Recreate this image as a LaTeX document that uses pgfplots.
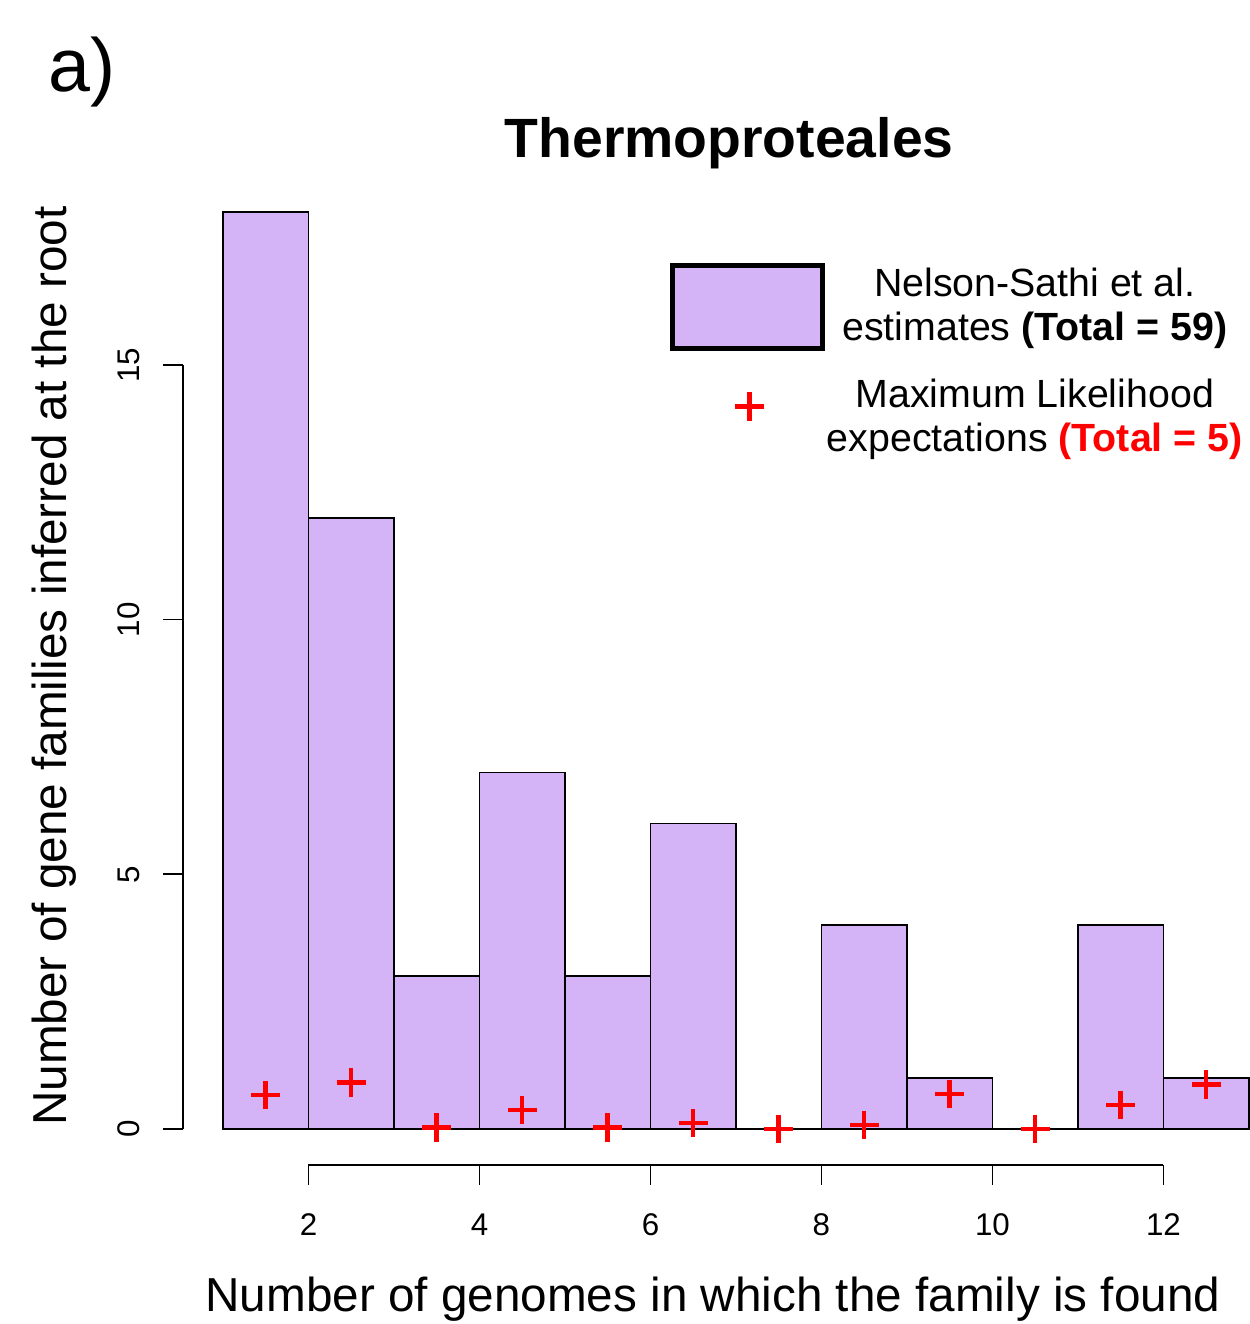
\documentclass[border=0pt]{standalone}
\usepackage{pgfplots}
\pgfplotsset{compat=1.18}
\usepackage{fontspec}
\setmainfont{Liberation Sans}
\definecolor{lav}{RGB}{212,180,246}

\begin{document}
\begin{tikzpicture}
\begin{axis}[
  x=25.65pt, y=15.28pt,
  xmin=0.532, xmax=13, ymin=-0.707, ymax=18,
  hide axis,
  clip=false,
  legend style={draw=none, fill=none, at={(axis cs:6.22,17.05)}, anchor=north west,
    font=\fontsize{11.8}{13.2}\selectfont, cells={align=center},
    row sep=6pt, column sep=-1.5pt, inner sep=0pt},
  legend cell align=center,
]
% histogram of Nelson-Sathi et al. estimates (last point closes the interval)
\addplot[ybar interval, fill=lav, draw=black, line width=0.5pt, forget plot] coordinates {
  (1,18) (2,12) (3,3) (4,7) (5,3) (6,6) (7,0) (8,4) (9,1) (10,0) (11,4) (12,1) (13,1)
};
% maximum likelihood expectations
\addplot[only marks, mark=+, red, mark size=4.3pt, line width=1.35pt, forget plot] coordinates {
  (1.5,0.67) (2.5,0.91) (3.5,0.03) (4.5,0.37) (5.5,0.03) (6.5,0.12)
  (7.5,0.0) (8.5,0.08) (9.5,0.69) (10.5,0.0) (11.5,0.47) (12.5,0.87)
};

\addlegendimage{legend image code/.code={
  \draw[line width=1.6pt, fill=lav] (0pt,-12.45pt) rectangle (45pt,12.45pt);}}
\addlegendentry{Nelson-Sathi et al.\\estimates \textbf{(Total = 59)}}
\addlegendimage{legend image code/.code={
  \path (0pt,-10pt) (45pt,10pt);
  \draw[red, line width=1.35pt, mark size=4.3pt, only marks, mark=+] plot coordinates {(23pt,3.3pt)};}}
\addlegendentry{Maximum Likelihood\\expectations \textcolor{red}{\textbf{(Total = 5)}}}

% R style axes
\draw[line width=0.5pt] (axis cs:2,-0.707) -- (axis cs:12,-0.707);
\pgfplotsinvokeforeach{2,4,6,8,10,12}{
  \draw[line width=0.5pt] (axis cs:#1,-0.707) -- (axis cs:#1,-1.1);
  \node[font=\fontsize{9.4}{11}\selectfont, anchor=base] at (axis cs:#1,-2.10) {#1};
}
\draw[line width=0.5pt] (axis cs:0.532,0) -- (axis cs:0.532,15);
\pgfplotsinvokeforeach{0,5,10,15}{
  \draw[line width=0.5pt] (axis cs:0.532,#1) -- (axis cs:0.298,#1);
  \node[rotate=90, anchor=base, font=\fontsize{9.4}{11}\selectfont] at (axis cs:0.029,#1) {#1};
}

\node[anchor=base, font=\fontsize{14.3}{16}\selectfont] at (axis cs:6.73,-3.593)
  {Number of genomes in which the family is found};
\node[anchor=base, rotate=90, font=\fontsize{14.3}{16}\selectfont] at (axis cs:-0.836,9.09)
  {Number of gene families inferred at the root};
\node[anchor=base, font=\fontsize{16.6}{19}\bfseries] at (axis cs:6.92,19.07) {Thermoproteales};
\node[font=\fontsize{22.6}{26}\selectfont] at (axis cs:-0.649,20.75) {a)};

\coordinate (tl) at (axis cs:-1.608,22.167);
\coordinate (br) at (axis cs:13.012,-3.829);
\end{axis}
\pgfresetboundingbox
\useasboundingbox (tl) rectangle (br);
\end{tikzpicture}
\end{document}
